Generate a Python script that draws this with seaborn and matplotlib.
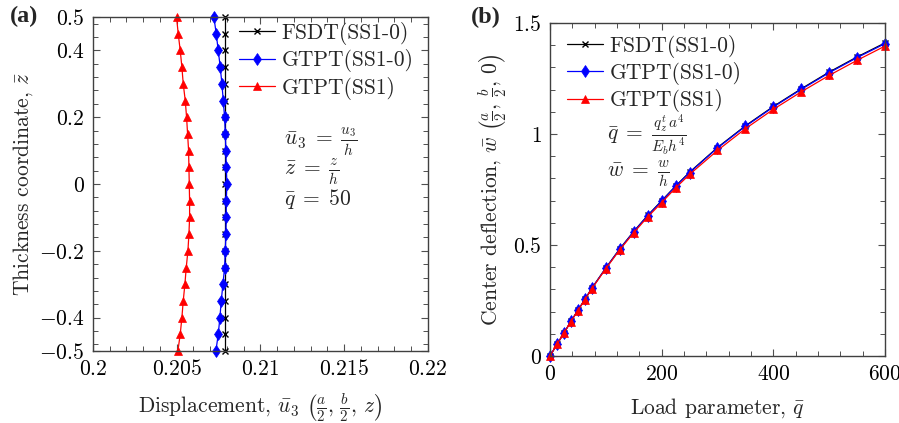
import matplotlib
matplotlib.use("Agg")
import matplotlib.pyplot as plt
from matplotlib.ticker import FixedLocator, MultipleLocator, FixedFormatter
import seaborn as sns
import pandas as pd

# ---------------- data: panel (a) ----------------
z_coord = [-0.5, -0.45, -0.4, -0.35, -0.3, -0.25, -0.2, -0.15, -0.1, -0.05, 0.0,
           0.05, 0.1, 0.15, 0.2, 0.25, 0.3, 0.35, 0.4, 0.45, 0.5]
u3_fsdt = [0.2079] * 21
u3_gtpt_ss10 = [0.20734, 0.20748, 0.20758, 0.20766, 0.20776, 0.20786, 0.2079, 0.20794,
                0.20796, 0.20796, 0.20800, 0.20796, 0.20794, 0.2079, 0.20786, 0.20778,
                0.2077, 0.2076, 0.20748, 0.20736, 0.20722]
u3_gtpt_ss1 = [0.20507, 0.20521, 0.20531, 0.20539, 0.20549, 0.20557, 0.20567, 0.20573,
               0.20577, 0.20577, 0.20575, 0.20573, 0.20571, 0.20565, 0.20559, 0.20551,
               0.20539, 0.20531, 0.20521, 0.20509, 0.20499]

# ---------------- data: panel (b) ----------------
q_load = [0, 12.5, 25, 37.5, 50, 62.5, 75, 100, 125, 150, 175, 200, 225, 250,
          300, 350, 400, 450, 500, 550, 600]
w_fsdt = [0, 0.0527, 0.1038, 0.1563, 0.2060, 0.2555, 0.3056, 0.3968, 0.4830, 0.5612,
          0.6335, 0.6995, 0.7657, 0.8280, 0.9392, 1.0370, 1.1240, 1.2037, 1.2790,
          1.3472, 1.4103]
w_gtpt_ss10 = [0, 0.0526, 0.1036, 0.1560, 0.2057, 0.2550, 0.3050, 0.3960, 0.4820,
               0.5600, 0.6320, 0.6980, 0.7640, 0.8260, 0.9370, 1.0345, 1.1216, 1.2010,
               1.2760, 1.3440, 1.4070]
w_gtpt_ss1 = [0, 0.0524, 0.1032, 0.1553, 0.2047, 0.2537, 0.3033, 0.3935, 0.4785,
              0.5555, 0.6265, 0.6910, 0.7570, 0.8180, 0.9260, 1.0240, 1.1110, 1.1900,
              1.2640, 1.3320, 1.3960]

series_names = ["FSDT(SS1-0)", "GTPT(SS1-0)", "GTPT(SS1)"]

a_xticks = [0.2, 0.205, 0.21, 0.215, 0.22]
a_xticklabels = ["$0.2$", "$0.205$", "$0.21$", "$0.215$", "$0.22$"]
a_yticks = [-0.5, -0.4, -0.2, 0, 0.2, 0.4, 0.5]
a_yticklabels = ["$-0.5$", "$-0.4$", "$-0.2$", "$0$", "$0.2$", "$0.4$", "$0.5$"]
b_xticks = [0, 200, 400, 600]
b_xticklabels = ["$0$", "$200$", "$400$", "$600$"]
b_yticks = [0, 0.5, 1, 1.5]
b_yticklabels = ["$0$", "$0.5$", "$1$", "$1.5$"]

# ---------------- style ----------------
sns.set_theme(style="ticks")
plt.rcParams.update({
    "font.family": ["cmr10", "DejaVu Serif"],
    "mathtext.fontset": "cm",
    "axes.formatter.use_mathtext": True,
    "axes.unicode_minus": True,
    "axes.edgecolor": "#404040",
    "axes.linewidth": 1.0,
    "xtick.direction": "in",
    "ytick.direction": "in",
    "xtick.top": True,
    "ytick.right": True,
    "xtick.color": "#505050",
    "ytick.color": "#505050",
    "xtick.labelcolor": "black",
    "ytick.labelcolor": "black",
    "xtick.major.size": 5,
    "ytick.major.size": 5,
    "xtick.minor.size": 3.5,
    "ytick.minor.size": 3.5,
    "xtick.major.width": 0.8,
    "ytick.major.width": 0.8,
    "xtick.minor.width": 0.7,
    "ytick.minor.width": 0.7,
})

FS = 15.5
colors = ["black", "#0000ff", "#ff0000"]
line_kw = [
    dict(marker="x", markersize=3.8, markeredgewidth=1.0, linewidth=0.9),
    dict(marker="d", markersize=6, markeredgewidth=0.5, linewidth=0.9),
    dict(marker="^", markersize=5.8, markeredgewidth=0.5, linewidth=0.9),
]

fig = plt.figure(figsize=(8.99, 4.23), dpi=100)
ax1 = fig.add_axes([0.1034, 0.1702, 0.3726, 0.7896])
ax2 = fig.add_axes([0.6118, 0.1584, 0.3726, 0.7872])

# ---------------- panel (a) ----------------
for name, xs, c, kw in zip(series_names, [u3_fsdt, u3_gtpt_ss10, u3_gtpt_ss1], colors, line_kw):
    df = pd.DataFrame({"u": xs, "z": z_coord})
    sns.lineplot(data=df, x="u", y="z", sort=False, estimator=None, color=c,
                 markeredgecolor=c, markerfacecolor=c,
                 label=name, ax=ax1, clip_on=False, **kw)

ax1.set_xlim(0.2, 0.22)
ax1.set_ylim(-0.5, 0.5)
ax1.xaxis.set_major_locator(FixedLocator(a_xticks))
ax1.xaxis.set_major_formatter(FixedFormatter(a_xticklabels))
ax1.xaxis.set_minor_locator(MultipleLocator(0.001))
ax1.yaxis.set_major_locator(FixedLocator(a_yticks))
ax1.yaxis.set_major_formatter(FixedFormatter(a_yticklabels))
ax1.yaxis.set_minor_locator(MultipleLocator(0.04))
ax1.tick_params(which="both", labelsize=FS, pad=6)
ax1.set_xlabel(r"Displacement, $\bar{u}_3\ \left(\frac{a}{2},\,\frac{b}{2},\,z\right)$",
               fontsize=FS, labelpad=9)
ax1.set_ylabel(r"Thickness coordinate, $\bar{z}$", fontsize=FS, labelpad=3)
leg1 = ax1.legend(loc="upper left", bbox_to_anchor=(0.435, 0.985), frameon=False,
                  fontsize=FS, handlelength=1.7, handletextpad=0.3, labelspacing=0.2,
                  borderpad=0, borderaxespad=0)
ax1.text(0.57, 0.625, r"$\bar{u}_3\;=\;\frac{u_3}{h}$", transform=ax1.transAxes,
         fontsize=FS, va="center", ha="left")
ax1.text(0.57, 0.535, r"$\bar{z}\;=\;\frac{z}{h}$", transform=ax1.transAxes,
         fontsize=FS, va="center", ha="left")
ax1.text(0.57, 0.456, r"$\bar{q}\;=\;50$", transform=ax1.transAxes,
         fontsize=FS, va="center", ha="left")

# ---------------- panel (b) ----------------
for name, ys, c, kw in zip(series_names, [w_fsdt, w_gtpt_ss10, w_gtpt_ss1], colors, line_kw):
    df = pd.DataFrame({"q": q_load, "w": ys})
    sns.lineplot(data=df, x="q", y="w", estimator=None, color=c,
                 markeredgecolor=c, markerfacecolor=c,
                 label=name, ax=ax2, clip_on=False, **kw)

ax2.set_xlim(0, 600)
ax2.set_ylim(0, 1.5)
ax2.xaxis.set_major_locator(FixedLocator(b_xticks))
ax2.xaxis.set_major_formatter(FixedFormatter(b_xticklabels))
ax2.xaxis.set_minor_locator(MultipleLocator(40))
ax2.yaxis.set_major_locator(FixedLocator(b_yticks))
ax2.yaxis.set_major_formatter(FixedFormatter(b_yticklabels))
ax2.yaxis.set_minor_locator(MultipleLocator(0.1))
ax2.tick_params(which="both", labelsize=FS, pad=6)
ax2.set_xlabel(r"Load parameter, $\bar{q}$", fontsize=FS, labelpad=9)
ax2.set_ylabel(r"Center deflection, $\bar{w}\ \left(\frac{a}{2},\,\frac{b}{2},\,0\right)$",
               fontsize=FS, labelpad=3)
leg2 = ax2.legend(loc="upper left", bbox_to_anchor=(0.05, 0.965), frameon=False,
                  fontsize=FS, handlelength=1.7, handletextpad=0.3, labelspacing=0.2,
                  borderpad=0, borderaxespad=0)
ax2.text(0.17, 0.665, r"$\bar{q}\;=\;\frac{q_z^t\,a^4}{E_b h^4}$", transform=ax2.transAxes,
         fontsize=FS, va="center", ha="left")
ax2.text(0.17, 0.545, r"$\bar{w}\;=\;\frac{w}{h}$", transform=ax2.transAxes,
         fontsize=FS, va="center", ha="left")

# panel labels
fig.text(0.011, 0.962, "(a)", fontsize=FS + 2, fontweight="bold",
         family=["Liberation Serif"], va="center", ha="left")
fig.text(0.524, 0.958, "(b)", fontsize=FS + 2, fontweight="bold",
         family=["Liberation Serif"], va="center", ha="left")

fig.savefig("out.png", dpi=100)
